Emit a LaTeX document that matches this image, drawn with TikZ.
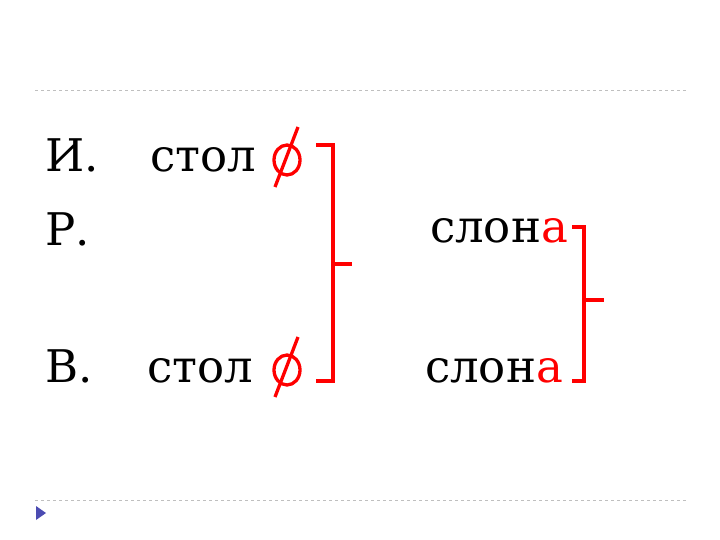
\documentclass[tikz,border=0pt]{standalone}
\usepackage{fontspec}
\setmainfont{DejaVu Serif}
\begin{document}
\begin{tikzpicture}[x=1pt,y=-1pt,
  txt/.style={font=\fontsize{45}{45}\selectfont, inner sep=0pt, anchor=base west},
  redl/.style={draw=red, line width=3.5pt},
  dl/.style={draw=gray!50, dashed, line width=0.6pt}]
\useasboundingbox (0,0) rectangle (720,540);
\coordinate (d1a) at (35,90); \coordinate (d1b) at (688,90);
\coordinate (d2a) at (35,500); \coordinate (d2b) at (688,500);
\draw[dl] (d1a) -- (d1b);
\draw[dl] (d2a) -- (d2b);
\fill[blue!40!gray] (36,506) -- (46,513) -- (36,520) -- cycle;
\node[txt] (i) at (45,172) {И.};
\node[txt] (r) at (45,245) {Р.};
\node[txt] (v) at (45,382) {В.};
\node[txt] (s1) at (150,172) {стол};
\node[txt] (s2) at (147,382) {стол};
\node[txt] (l1) at (430,243) {слон\textcolor{red}{а}};
\node[txt] (l2) at (425,382) {слон\textcolor{red}{а}};
\foreach \cy in {160,370}{
  \draw[red, line width=3.3pt] (287,\cy) ellipse (13 and 15);
  \draw[red, line width=3.3pt] (298,\cy-33) -- (275,\cy+27);
}
\draw[redl] (316,145) -- (333,145) -- (333,381) -- (316,381);
\draw[redl] (333,264) -- (352,264);
\draw[redl] (572,227) -- (584,227) -- (584,381) -- (572,381);
\draw[redl] (584,300) -- (604,300);
\end{tikzpicture}
\end{document}
